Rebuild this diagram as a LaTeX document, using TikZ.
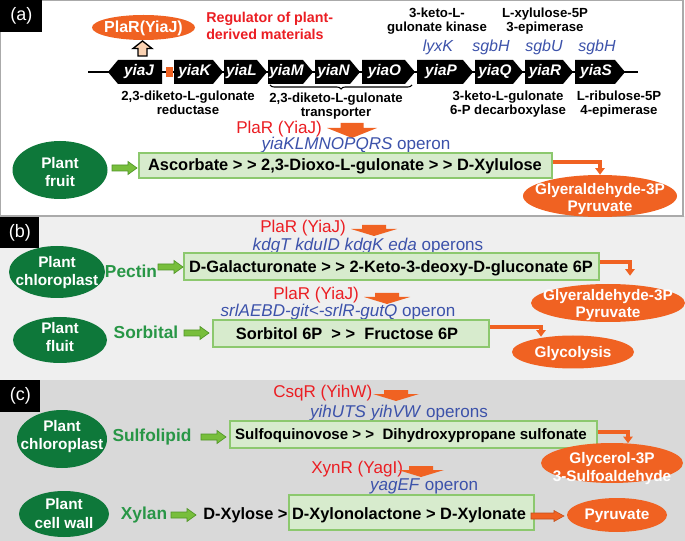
\documentclass[tikz,border=0pt]{standalone}
\usepackage{fontspec}
\setmainfont{Liberation Sans}
\usetikzlibrary{shapes.geometric,decorations.pathreplacing,arrows.meta,calc}

\definecolor{oran}{RGB}{240,98,34}
\definecolor{dgreen}{RGB}{14,120,58}
\definecolor{tgreen}{RGB}{40,150,70}
\definecolor{boxfill}{RGB}{215,235,205}
\definecolor{boxline}{RGB}{140,200,110}
\definecolor{agreen}{RGB}{120,190,60}
\definecolor{agreendk}{RGB}{80,150,40}
\definecolor{rtext}{RGB}{235,30,35}
\definecolor{btext}{RGB}{60,82,170}
\definecolor{peach}{RGB}{250,210,178}
\definecolor{bgb}{RGB}{239,239,239}
\definecolor{bgc}{RGB}{217,217,217}
\definecolor{framec}{RGB}{170,170,170}

\newcommand\pxl[1]{#1*0.75pt}
\newcommand\fsz[2]{\fontsize{#1}{#2}\selectfont}
\newcommand\geneR[4]{%
  \fill (#2,60) -- ({#3-10},60) -- (#3,72) -- ({#3-10},84) -- (#2,84) -- cycle;
  \node[genetxt] (#1) at ({(#2+#3)/2-4},72) {#4};}

\tikzset{
  genetxt/.style={text=white, font=\bfseries\itshape\fsz{11.5}{13}, inner sep=0},
  glbl/.style={font=\bfseries\fsz{9.9}{10.5}, align=center, inner sep=0},
  bluegene/.style={text=btext, font=\itshape\fsz{12}{14}, inner sep=0},
  redt/.style={text=rtext, font=\fsz{12.8}{15}, inner sep=0},
  bluet/.style={text=btext, font=\fsz{12.8}{15}, inner sep=0},
  gbox/.style={draw=boxline, fill=boxfill, line width=0.8pt, inner sep=0, rectangle},
  boxt/.style={font=\bfseries\fsz{12.3}{14}, inner sep=0},
  boxts/.style={font=\bfseries\fsz{11.3}{14}, inner sep=0},
  pell/.style={ellipse, fill=dgreen, inner sep=0},
  oell/.style={ellipse, fill=oran, inner sep=0},
  pellt/.style={text=white, font=\bfseries\fsz{11.5}{14}, align=center, inner sep=0},
  oellt/.style={text=white, font=\bfseries\fsz{11.5}{13.2}, align=center, inner sep=0},
  greent/.style={text=tgreen, font=\bfseries\fsz{13}{15}, inner sep=0},
  elbow/.style={draw=oran, line width=2.4pt, -{Triangle[width=7pt, length=5pt]}},
  plbl/.style={fill=black, text=white, font=\fsz{13.5}{15}, inner sep=0, anchor=north west},
  pics/garrow/.style={code={\filldraw[fill=agreen, draw=agreendk, line width=0.5pt]
     (0,-3) -- (16,-3) -- (16,-6.5) -- (25,0) -- (16,6.5) -- (16,3) -- (0,3) -- cycle;}},
  pics/odownA/.style={code={\fill[oran]
     (-11.5,0) -- (11.5,0) -- (11.5,5) -- (25,5) -- (0,15) -- (-25,5) -- (-11.5,5) -- cycle;}},
  pics/odownB/.style={code={\fill[oran]
     (-12,0) -- (12,0) -- (12,4) -- (23,4) -- (0,11) -- (-23,4) -- (-12,4) -- cycle;}},
  pics/oright/.style={code={\filldraw[fill=oran, draw=oran!80!black, line width=0.4pt]
     (0,-3) -- (23,-3) -- (23,-5.5) -- (33,0) -- (23,5.5) -- (23,3) -- (0,3) -- cycle;}},
}

\begin{document}
\begin{tikzpicture}[x=0.75pt,y=-0.75pt]
\useasboundingbox (0,0) rectangle (685,541);
% panel backgrounds
\fill[bgc] (0,380) rectangle (685,541);
\fill[bgb] (0,216) rectangle (685,380);
\filldraw[draw=framec, fill=white, line width=1pt] (0.6,0.6) rectangle (683,216);

% panel labels
\node[plbl, minimum width=\pxl{42}, minimum height=\pxl{32}] (la) at (0,0) {(a)};
\node[plbl, minimum width=\pxl{39}, minimum height=\pxl{31}] (lb) at (0,217) {(b)};
\node[plbl, minimum width=\pxl{40}, minimum height=\pxl{32}] (lc) at (0,380) {(c)};

% ---------------- panel (a): operon ----------------
\node[oell, minimum width=\pxl{103}, minimum height=\pxl{25}] (plaE) at (143.5,27.5) {};
\node[text=white, font=\bfseries\fsz{12}{14}, inner sep=0] (plaEt) at (143.5,28) {PlaR(YiaJ)};
\filldraw[fill=peach, draw=black, line width=1pt] (138,56) -- (138,48.5) -- (133,48.5) -- (142.5,41) -- (152,48.5) -- (147,48.5) -- (147,56) -- cycle;
\node[text=rtext, font=\bfseries\fsz{10.7}{12.75}, align=left, inner sep=0, anchor=west] (reg) at (206,25.5) {Regulator of plant-\\derived materials};

\draw[line width=1.1pt] (88,72) -- (638,72);
\fill (162,60) -- (118,60) -- (108,72) -- (118,84) -- (162,84) -- cycle;
\node[genetxt] (gJ) at (139,72) {yiaJ};
\fill[oran] (166,67) rectangle (173,77);
\geneR{gK}{174}{223}{yiaK}
\geneR{gL}{224}{267}{yiaL}
\geneR{gM}{268}{313}{yiaM}
\geneR{gN}{315}{360}{yiaN}
\geneR{gO}{362}{415}{yiaO}
\geneR{gP}{417}{473}{yiaP}
\geneR{gQ}{475}{523}{yiaQ}
\geneR{gR}{525}{573}{yiaR}
\geneR{gS}{575}{625}{yiaS}

\draw[line width=0.8pt, decorate, decoration={brace, mirror, amplitude=3pt}] (270,85) -- (412,85);

\node[glbl] (l1) at (188,103) {2,3-diketo-L-gulonate\\reductase};
\node[glbl] (l2) at (336,106) {2,3-diketo-L-gulonate\\transporter};
\node[glbl] (l3) at (508,104) {3-keto-L-gulonate\\6-P decarboxylase};
\node[glbl] (l4) at (619,104) {L-ribulose-5P\\4-epimerase};
\node[glbl] (l5) at (437,21) {3-keto-L-\\gulonate kinase};
\node[glbl] (l6) at (545,21) {L-xylulose-5P\\3-epimerase};
\node[bluegene] (b1) at (438,47) {lyxK};
\node[bluegene] (b2) at (491,47) {sgbH};
\node[bluegene] (b3) at (544,47) {sgbU};
\node[bluegene] (b4) at (597,47) {sgbH};

% ---------------- panel (a): pathway ----------------
\node[redt, anchor=west] (rA) at (236,129) {PlaR (YiaJ)};
\pic at (352,123) {odownA};
\node[bluet] (opA) at (356,145) {\textit{yiaKLMNOPQRS} operon};
\node[gbox, minimum width=\pxl{413}, minimum height=\pxl{25}] (boxA) at (345.5,165.5) {};
\node[boxt] (txA) at (345,166) {Ascorbate > > 2,3-Dioxo-L-gulonate > > D-Xylulose};
\node[pell, minimum width=\pxl{95}, minimum height=\pxl{58}] (pfA) at (60,170) {};
\node[pellt] (pfAt) at (60,172) {Plant\\fruit};
\pic at (112,168) {garrow};
\node[oell, minimum width=\pxl{154}, minimum height=\pxl{42}] (glyA) at (600,196) {};
\node[oellt] (glyAt) at (600,199) {Glyeraldehyde-3P\\Pyruvate};
\draw[elbow] ([yshift=\pxl{3.5}]boxA.east) -| (glyA.north);

% ---------------- panel (b) ----------------
\node[redt, anchor=west] (rB1) at (260,228) {PlaR (YiaJ)};
\pic at (374,225) {odownB};
\node[bluet] (opB1) at (368,246.5) {\textit{kdgT kduID kdgK eda} operons};
\node[gbox, minimum width=\pxl{415}, minimum height=\pxl{27}] (boxB1) at (391.5,266.5) {};
\node[boxt] (txB1) at (391,268) {D-Galacturonate > > 2-Keto-3-deoxy-D-gluconate 6P};
\node[pell, minimum width=\pxl{96}, minimum height=\pxl{52}] (pcB) at (57,272) {};
\node[pellt] (pcBt) at (57,272.5) {Plant\\chloroplast};
\node[greent] (pec) at (131,271) {Pectin};
\pic at (158,267) {garrow};
\node[oell, minimum width=\pxl{154}, minimum height=\pxl{38}] (glyB) at (608,303) {};
\node[oellt] (glyBt) at (608,305) {Glyeraldehyde-3P\\Pyruvate};
\draw[elbow] ([yshift=\pxl{4.5}]boxB1.east) -| ($(glyB.north)+(22,-8)$);

\node[redt, anchor=west] (rB2) at (273,295) {PlaR (YiaJ)};
\pic at (387,293) {odownB};
\node[bluet] (opB2) at (338,312) {\textit{srlAEBD-git<-srlR-gutQ} operon};
\node[gbox, minimum width=\pxl{276}, minimum height=\pxl{27}] (boxB2) at (351,333.5) {};
\node[boxt] (txB2) at (347,334) {Sorbitol 6P\ \ > >\ \ Fructose 6P};
\node[pell, minimum width=\pxl{94}, minimum height=\pxl{46}] (pfB) at (60,340) {};
\node[pellt] (pfBt) at (60,337) {Plant\\fluit};
\node[greent] (sor) at (146,332) {Sorbital};
\pic at (184,333) {garrow};
\node[oell, minimum width=\pxl{122}, minimum height=\pxl{33}] (glyc) at (573,352) {};
\node[oellt] (glyct) at (573,354) {Glycolysis};
\draw[elbow] ([yshift=\pxl{6.5}]boxB2.east) -| ($(glyc.north)+(-32,1.5)$);

% ---------------- panel (c) ----------------
\node[redt, anchor=west] (rC1) at (273,393) {CsqR (YihW)};
\pic at (396,390) {odownB};
\node[bluet] (opC1) at (399,413) {\textit{yihUTS yihVW} operons};
\node[gbox, minimum width=\pxl{367}, minimum height=\pxl{27}] (boxC1) at (413.5,434.5) {};
\node[boxts] (txC1) at (411,436) {Sulfoquinovose > >\ \ Dihydroxypropane sulfonate};
\node[pell, minimum width=\pxl{90}, minimum height=\pxl{58}] (pcC) at (62,439) {};
\node[pellt] (pcCt) at (62,436.5) {Plant\\chloroplast};
\node[greent] (sul) at (152,437) {Sulfolipid};
\pic at (201,437) {garrow};
\node[oell, minimum width=\pxl{142}, minimum height=\pxl{40}] (glyC) at (612,463) {};
\node[oellt] (glyCt) at (612,468.5) {Glycerol-3P\\3-Sulfoaldehyde};
\draw[elbow] ([yshift=\pxl{2.5}]boxC1.east) -| ($(glyC.north)+(16,0.5)$);

\node[redt, anchor=west] (rC2) at (311,469) {XynR (YagI)};
\pic at (421,466) {odownB};
\node[bluet] (opC2) at (424,486) {\textit{yagEF} operon};
\node[gbox, minimum width=\pxl{245}, minimum height=\pxl{35}] (boxC2) at (411.5,512.5) {};
\node[boxt, anchor=west] (txC2) at (203,515) {D-Xylose > D-Xylonolactone > D-Xylonate};
\node[pell, minimum width=\pxl{90}, minimum height=\pxl{46}] (pcw) at (64,514) {};
\node[pellt] (pcwt) at (64,513.5) {Plant\\cell wall};
\node[greent] (xyl) at (144,515) {Xylan};
\pic at (171,515) {garrow};
\node[oell, minimum width=\pxl{100}, minimum height=\pxl{34}] (pyr) at (617,515) {};
\node[oellt] (pyrt) at (617,516) {Pyruvate};
\pic at (531,516) {oright};
\end{tikzpicture}
\end{document}
